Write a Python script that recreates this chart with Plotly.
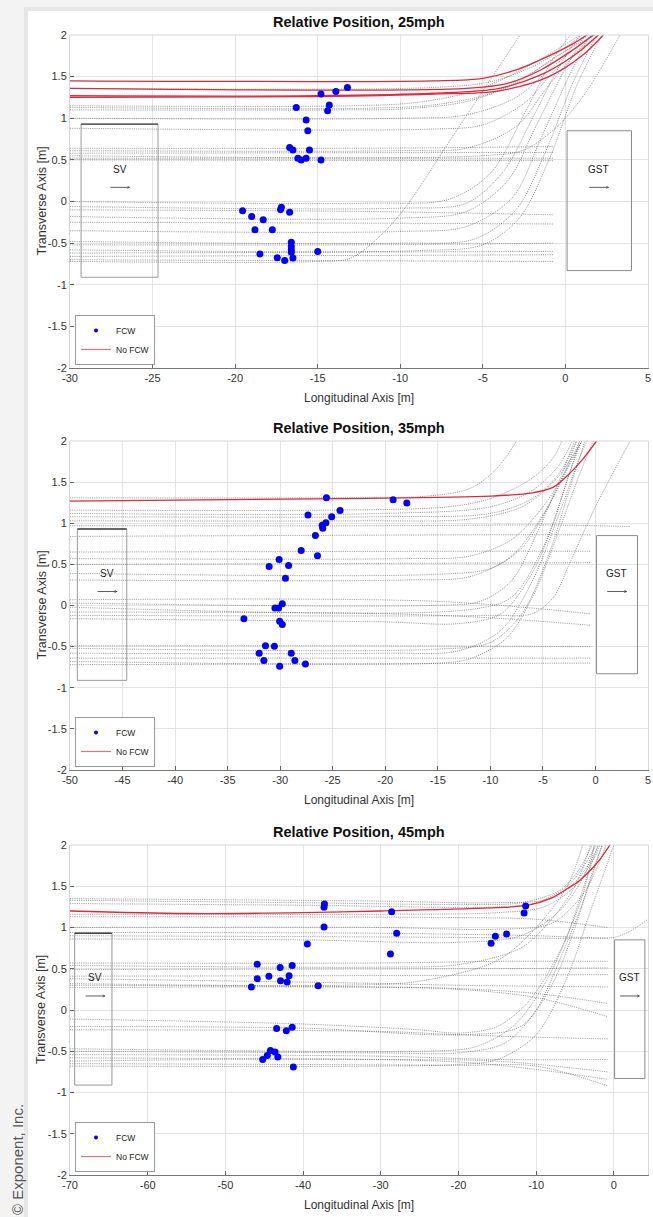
import plotly.graph_objects as go

# ---------------- DATA ----------------
y_tick_vals = [-2, -1.5, -1, -0.5, 0, 0.5, 1, 1.5, 2]
y_tick_text = ["-2", "-1.5", "-1", "-0.5", "0", "0.5", "1", "1.5", "2"]

p1_x_ticks = [-30, -25, -20, -15, -10, -5, 0, 5]
p2_x_ticks = [-50, -45, -40, -35, -30, -25, -20, -15, -10, -5, 0, 5]
p3_x_ticks = [-70, -60, -50, -40, -30, -20, -10, 0]

p1_title = "Relative Position, 25mph"
p2_title = "Relative Position, 35mph"
p3_title = "Relative Position, 45mph"

# FCW alert positions (blue dots)
p1_fcw_x = [-13.2, -13.9, -14.8, -14.3, -14.4, -16.3, -15.7, -15.6, -16.7, -16.5, -15.5, -16.2, -16.0, -15.7, -14.8,
            -19.55, -17.2, -17.25, -16.7, -19.0, -18.3, -18.8, -17.75, -16.6, -16.6, -16.6, -16.6, -15.0, -18.5, -17.45, -17.0, -16.5]
p1_fcw_y = [1.37, 1.32, 1.29, 1.16, 1.09, 1.13, 0.98, 0.85, 0.65, 0.62, 0.62, 0.52, 0.50, 0.52, 0.50,
            -0.11, -0.07, -0.095, -0.13, -0.18, -0.22, -0.34, -0.34, -0.49, -0.54, -0.58, -0.61, -0.60, -0.63, -0.675, -0.71, -0.68]

p2_fcw_x = [-25.6, -19.25, -17.95, -24.3, -27.35, -25.1, -25.65, -26.0, -25.95, -26.65, -28.0, -26.45, -30.1, -31.05, -29.2, -29.5,
            -29.8, -30.5, -30.15, -33.45, -30.05, -29.8, -31.4, -30.55, -32.0, -28.95, -31.55, -28.6, -27.6, -30.05]
p2_fcw_y = [1.31, 1.285, 1.245, 1.155, 1.10, 1.08, 1.005, 0.975, 0.94, 0.85, 0.67, 0.605, 0.56, 0.475, 0.485, 0.33,
            0.02, -0.03, -0.03, -0.16, -0.19, -0.23, -0.49, -0.495, -0.58, -0.58, -0.67, -0.67, -0.71, -0.74]

p3_fcw_x = [-37.25, -37.3, -28.6, -11.35, -11.55, -37.3, -27.95, -13.8, -15.25, -15.8, -39.45, -28.75, -45.9, -41.4, -42.95,
            -41.8, -44.4, -45.9, -42.9, -42.05, -38.05, -46.65,
            -43.4, -42.15, -41.4, -44.2, -43.6, -44.6, -43.25, -45.2, -41.25]
p3_fcw_y = [1.285, 1.245, 1.19, 1.26, 1.175, 1.005, 0.93, 0.92, 0.895, 0.81, 0.80, 0.68, 0.555, 0.54, 0.515,
            0.415, 0.41, 0.38, 0.355, 0.34, 0.295, 0.28,
            -0.225, -0.25, -0.21, -0.49, -0.51, -0.55, -0.57, -0.60, -0.69]

# No-FCW trajectories (red), each a list of (x, y) points
p1_nofcw = [
    [(-30, 1.45), (-8, 1.45), (-5, 1.48), (-3, 1.58), (-1, 1.75), (0.5, 1.9), (1.3, 2.0)],
    [(-30, 1.36), (-6, 1.36), (-3.5, 1.42), (-1.5, 1.58), (0.3, 1.8), (1.7, 2.0)],
    [(-30, 1.27), (-15, 1.27), (-8, 1.30), (-4, 1.36), (-1.5, 1.52), (0.5, 1.75), (2.0, 2.0)],
    [(-30, 1.25), (-15, 1.26), (-8, 1.29), (-4, 1.33), (-1, 1.5), (1, 1.75), (2.3, 2.0)],
]
p2_nofcw = [
    [(-50, 1.27), (-24, 1.30), (-10, 1.33), (-6, 1.37), (-4, 1.44), (-2.5, 1.6), (-1.2, 1.78), (0.1, 2.0)],
]
p3_nofcw = [
    [(-70, 1.20), (-55, 1.17), (-40, 1.18), (-30, 1.20), (-15, 1.24), (-11, 1.27), (-8, 1.36), (-6, 1.47),
     (-4.4, 1.57), (-2, 1.8), (-0.5, 2.0)],
]

# Other simulated trajectories (grey dotted)
p1_traj = [
    [(-30, 1.36), (-8, 1.37), (-4.5, 1.44), (-2, 1.62), (0, 1.85), (1.0, 2.0)],
    [(-30, 1.15), (-13, 1.15), (-9, 1.19), (-5.5, 1.33), (-2.5, 1.6), (0.9, 2.0)],
    [(-30, 1.13), (-12, 1.12), (-8, 1.16), (-4.5, 1.3), (-2, 1.55), (1.4, 2.0)],
    [(-30, 1.10), (-14, 1.10), (-10, 1.11), (-6, 1.2), (-3, 1.42), (-0.5, 1.75), (1.8, 2.0)],
    [(-30, 1.00), (-10, 1.00), (-6, 1.04), (-3, 1.25), (-1, 1.58), (1.6, 2.0)],
    [(-30, 0.88), (-8, 0.87), (-5, 0.92), (-2.5, 1.18), (-0.5, 1.6), (2.0, 2.0)],
    [(-30, 0.64), (-12, 0.64), (-0.7, 0.66)],
    [(-30, 0.61), (-10, 0.61), (-6, 0.64), (-3, 0.9), (-1, 1.4), (1.6, 2.0)],
    [(-30, 0.58), (-0.7, 0.59)],
    [(-30, 0.55), (-5, 0.55), (-2.5, 0.62), (-0.5, 0.9), (1.2, 1.3), (3.3, 2.0)],
    [(-30, 0.52), (-0.7, 0.52)],
    [(-30, 0.50), (-0.7, 0.49)],
    [(-30, 0.00), (-12, -0.02), (-7, 0.03), (-4.5, 0.35), (-2.5, 1.05), (-0.8, 1.7), (0.3, 2.0)],
    [(-30, -0.06), (-10, -0.08), (-6, -0.02), (-3.8, 0.35), (-2, 1.0), (-0.3, 1.65), (0.9, 2.0)],
    [(-30, -0.10), (-12, -0.12), (-0.7, -0.16)],
    [(-30, -0.18), (-10, -0.2), (-6, -0.12), (-3.5, 0.25), (-1.8, 0.9), (0, 1.6), (1.2, 2.0)],
    [(-30, -0.25), (-12, -0.26), (-0.7, -0.27)],
    [(-30, -0.35), (-10, -0.36), (-6, -0.3), (-3.2, 0.05), (-1.5, 0.75), (0.2, 1.5), (1.5, 2.0)],
    [(-30, -0.48), (-10, -0.5), (-5.5, -0.45), (-3, -0.1), (-1.2, 0.6), (0.5, 1.45), (1.9, 2.0)],
    [(-30, -0.52), (-12, -0.52), (-0.7, -0.5)],
    [(-30, -0.58), (-9, -0.59), (-5, -0.52), (-2.8, -0.2), (-1, 0.5), (0.7, 1.4), (2.2, 2.0)],
    [(-30, -0.62), (-0.7, -0.60)],
    [(-30, -0.66), (-0.7, -0.64)],
    [(-30, -0.70), (-0.7, -0.72)],
    [(-30, -0.72), (-15, -0.72), (-13, -0.68), (-11.2, -0.41), (-9.8, -0.1), (-6.6, 0.85), (-2.75, 2.0)],
]
p2_traj = [
    [(-50, 1.31), (-25, 1.31), (-16, 1.33), (-12, 1.42), (-9.5, 1.65), (-7.5, 2.0)],
    [(-50, 1.16), (-25, 1.16), (-14, 1.2), (-10, 1.3), (-6, 1.55), (-4, 1.8), (-3.2, 2.0)],
    [(-50, 1.12), (-20, 1.12), (-10, 1.2), (-6, 1.4), (-3.5, 1.7), (-2.2, 2.0)],
    [(-50, 1.08), (-20, 1.08), (-10, 1.12), (-6, 1.3), (-3.5, 1.6), (-1.8, 2.0)],
    [(-50, 1.03), (-22, 1.03), (-12, 1.05), (-7, 1.2), (-4, 1.5), (-2, 1.85), (-1.3, 2.0)],
    [(-50, 0.97), (-20, 0.97), (-5, 0.98), (0, 0.97), (3.3, 0.96)],
    [(-50, 0.84), (-10, 0.86), (-0.5, 0.86)],
    [(-50, 0.65), (-10, 0.66), (-0.5, 0.66)],
    [(-50, 0.57), (-18, 0.57), (-12, 0.6), (-8, 0.8), (-5, 1.2), (-3, 1.6), (-1.5, 2.0)],
    [(-50, 0.50), (-0.5, 0.52)],
    [(-50, 0.39), (-15, 0.38), (-10, 0.45), (-7, 0.7), (-4.5, 1.2), (-2.5, 1.7), (-1.3, 2.0)],
    [(-50, 0.31), (-18, 0.31), (-12, 0.35), (-8, 0.6), (-5, 1.1), (-3, 1.6), (-1.8, 2.0)],
    [(-50, 0.07), (-15, 0.05), (-0.5, -0.1)],
    [(-50, 0.03), (-16, 0.0), (-11, 0.05), (-8, 0.3), (-5.5, 0.9), (-3.5, 1.5), (-2, 2.0)],
    [(-50, -0.02), (-12, -0.05), (-8, 0.1), (-5, 0.7), (-3, 1.4), (-1.5, 2.0)],
    [(-50, -0.08), (-20, -0.1), (-10, -0.15), (-0.5, -0.24)],
    [(-50, -0.12), (-10, -0.12), (-6, -0.1), (-4, 0.1), (-2.5, 0.5), (0, 1.2), (3.3, 2.0)],
    [(-50, -0.16), (-20, -0.2), (-13, -0.22), (-9, -0.1), (-6, 0.4), (-4, 1.0), (-2.5, 1.6), (-1.3, 2.0)],
    [(-50, -0.49), (-20, -0.49), (-0.5, -0.50)],
    [(-50, -0.52), (-15, -0.53), (-10, -0.45), (-7, -0.1), (-4.5, 0.6), (-2.5, 1.4), (-1, 2.0)],
    [(-50, -0.58), (-20, -0.58), (-13, -0.55), (-9, -0.3), (-6, 0.3), (-3.5, 1.1), (-1.5, 1.8), (-0.8, 2.0)],
    [(-50, -0.64), (-0.5, -0.64)],
    [(-50, -0.68), (-15, -0.7), (-12, -0.65), (-8.5, -0.4), (-6, 0.1), (-3.5, 0.9), (-1.5, 1.6), (-0.2, 2.0)],
    [(-50, -0.72), (-0.5, -0.70)],
]
p3_traj = [
    [(-70, 1.35), (-30, 1.32), (-15, 1.3), (-8, 1.35), (-5, 1.55), (-3, 1.8), (-2, 2.0)],
    [(-70, 1.33), (-40, 1.3), (-20, 1.28), (-12, 1.3), (-7, 1.45), (-4.5, 1.7), (-2.8, 2.0)],
    [(-70, 1.29), (-40, 1.27), (-15, 1.25), (-10, 1.3), (-6, 1.5), (-3.5, 1.8), (-2.3, 2.0)],
    [(-70, 1.16), (-30, 1.16), (-15, 1.18), (-9, 1.25), (-5, 1.5), (-2.5, 1.85), (-1.8, 2.0)],
    [(-70, 1.13), (-20, 1.12), (-10, 1.1), (-0.8, 1.0)],
    [(-70, 1.00), (-30, 1.0), (-15, 0.98), (-8, 1.05), (-4, 1.4), (-1.8, 1.8), (-1, 2.0)],
    [(-70, 0.94), (-30, 0.93), (-10, 0.9), (-4, 0.88), (0, 0.88), (2, 0.95), (4.4, 1.1)],
    [(-70, 0.90), (-20, 0.88), (-10, 0.87), (-0.8, 0.87)],
    [(-70, 0.86), (-40, 0.85), (-20, 0.82), (-12, 0.9), (-7, 1.2), (-4, 1.6), (-2.5, 2.0)],
    [(-70, 0.57), (-30, 0.57), (-15, 0.59), (-0.8, 0.59)],
    [(-70, 0.54), (-30, 0.52), (-20, 0.55), (-12, 0.75), (-8, 1.1), (-5, 1.5), (-3, 2.0)],
    [(-70, 0.49), (-20, 0.5), (-0.8, 0.51)],
    [(-70, 0.41), (-20, 0.42), (-0.8, 0.43)],
    [(-70, 0.38), (-35, 0.33), (-20, 0.3), (-0.8, 0.28)],
    [(-70, 0.32), (-35, 0.3), (-25, 0.35), (-15, 0.6), (-10, 1.0), (-6, 1.5), (-4, 2.0)],
    [(-70, 0.30), (-30, 0.28), (-20, 0.26), (-10, 0.2), (-0.8, 0.08)],
    [(-70, 0.27), (-40, 0.28), (-20, 0.25), (-10, 0.15), (-0.8, -0.08)],
    [(-70, -0.11), (-40, -0.17), (-25, -0.24), (-20, -0.28), (-15, -0.2), (-11, 0.1), (-7, 0.7), (-4, 1.4), (-2.5, 2.0)],
    [(-70, -0.20), (-40, -0.22), (-20, -0.3), (-12, -0.2), (-8, 0.3), (-5, 1.0), (-3, 1.6), (-1.5, 2.0)],
    [(-70, -0.24), (-30, -0.26), (-20, -0.3), (-10, -0.33), (-0.8, -0.35)],
    [(-70, -0.47), (-40, -0.5), (-25, -0.5), (-18, -0.45), (-13, -0.2), (-9, 0.3), (-6, 0.9), (-3.5, 1.6), (-2, 2.0)],
    [(-70, -0.50), (-30, -0.52), (-20, -0.52), (-14, -0.4), (-10, 0.0), (-7, 0.6), (-4, 1.3), (-1.5, 2.0)],
    [(-70, -0.54), (-30, -0.56), (-15, -0.6), (-0.8, -0.6)],
    [(-70, -0.58), (-30, -0.6), (-15, -0.62), (-0.8, -0.75)],
    [(-70, -0.62), (-20, -0.63), (-0.8, -0.84)],
    [(-70, -0.65), (-20, -0.67), (-10, -0.68), (-0.8, -0.92)],
    [(-70, -0.68), (-30, -0.68), (-20, -0.66), (-15, -0.6), (-10, -0.3), (-6, 0.4), (-3, 1.2), (0, 2.0)],
]

# ---------------- LAYOUT GEOMETRY ----------------
W, H = 653, 1217
ML, MR, MT, MB = 70, 5, 35, 42
PH = H - MT - MB
PW = W - ML - MR
def py2paper(py):
    return (H - MB - py) / PH
def px2paper(px):
    return (px - ML) / PW

domains = [
    [py2paper(368), py2paper(35)],
    [py2paper(770), py2paper(441)],
    [py2paper(1175), py2paper(845)],
]
xranges = [[-30, 5], [-50, 5], [-70, 4.4]]
xticks = [p1_x_ticks, p2_x_ticks, p3_x_ticks]
titles = [p1_title, p2_title, p3_title]
fcw = [(p1_fcw_x, p1_fcw_y), (p2_fcw_x, p2_fcw_y), (p3_fcw_x, p3_fcw_y)]
reds = [p1_nofcw, p2_nofcw, p3_nofcw]
greys = [p1_traj, p2_traj, p3_traj]
sv_boxes = [(-29.33, -24.67), (-49.3, -44.6), (-69.4, -64.6)]
sv_text_x = [-27.0, -46.5, -66.8]

FONT = "Liberation Sans, Arial, Helvetica, sans-serif"
GREY = "rgba(60,60,60,0.62)"
RED = "#dc2a3c"

fig = go.Figure()

for i in range(3):
    sfx = "" if i == 0 else str(i + 1)
    xa, ya = "x" + sfx, "y" + sfx
    lg = "legend" + sfx
    for tr in greys[i]:
        fig.add_trace(go.Scatter(
            x=[p[0] for p in tr], y=[p[1] for p in tr], xaxis=xa, yaxis=ya, mode="lines",
            line=dict(color=GREY, width=0.9, dash="1px,1.2px", shape="spline", smoothing=0.9),
            hoverinfo="skip", showlegend=False))
    for tr in reds[i]:
        fig.add_trace(go.Scatter(
            x=[p[0] for p in tr], y=[p[1] for p in tr], xaxis=xa, yaxis=ya, mode="lines",
            line=dict(color=RED, width=1.3, shape="spline", smoothing=0.9),
            hoverinfo="skip", showlegend=False))
    fig.add_trace(go.Scatter(
        x=fcw[i][0], y=fcw[i][1], xaxis=xa, yaxis=ya, mode="markers",
        marker=dict(color="#0000ff", size=7, line=dict(width=0)),
        showlegend=False, hoverinfo="skip"))
    # legend entries
    fig.add_trace(go.Scatter(x=[None], y=[None], xaxis=xa, yaxis=ya, mode="markers", name="FCW",
                             marker=dict(color="#0000ff", size=4), legend=lg))
    fig.add_trace(go.Scatter(x=[None], y=[None], xaxis=xa, yaxis=ya, mode="lines", name="No FCW",
                             line=dict(color="#e8707c", width=1.2), legend=lg))

    axis_common = dict(showgrid=True, gridcolor="#e4e4e4", gridwidth=1, zeroline=False,
                       ticks="inside", ticklen=4, tickcolor="#666", tickwidth=1,
                       tickfont=dict(family=FONT, size=11, color="#333"))
    fig.layout["xaxis" + sfx] = dict(
        domain=[0, 1], range=xranges[i], anchor=ya, tickmode="array",
        tickvals=xticks[i], ticktext=[str(v) for v in xticks[i]],
        showline=True, linecolor="#777", linewidth=1, mirror=False, **axis_common)
    fig.layout["yaxis" + sfx] = dict(
        domain=domains[i], range=[-2, 2], anchor=xa, tickmode="array",
        tickvals=y_tick_vals, ticktext=y_tick_text,
        showline=True, linecolor="#d6d6d6", linewidth=1, mirror=True, **axis_common)

    fig.layout[lg] = dict(
        x=px2paper(75), y=domains[i][0] + 3 / PH, xanchor="left", yanchor="bottom",
        bgcolor="white", bordercolor="#9a9a9a", borderwidth=1,
        font=dict(family=FONT, size=8.5, color="#222"), itemwidth=30,
        tracegroupgap=0)

    # top frame line
    fig.add_shape(type="line", xref=xa + " domain", yref=ya + " domain", x0=0, x1=1, y0=1, y1=1,
                  line=dict(color="#d6d6d6", width=1))

    # SV vehicle outline
    x0, x1 = sv_boxes[i]
    fig.add_shape(type="rect", xref=xa, yref=ya, x0=x0, x1=x1, y0=-0.91, y1=0.93,
                  line=dict(color="#9a9a9a", width=1))
    fig.add_shape(type="line", xref=xa, yref=ya, x0=x0, x1=x1, y0=0.93, y1=0.93,
                  line=dict(color="#444", width=1.4))
    fig.add_annotation(xref=xa, yref=ya, x=sv_text_x[i], y=0.3, text="SV", showarrow=False,
                       font=dict(family=FONT, size=10, color="#222"), xanchor="center", yanchor="bottom")
    span = (xranges[i][1] - xranges[i][0]) / 35.0
    fig.add_annotation(xref=xa, yref=ya, axref=xa, ayref=ya, x=sv_text_x[i] + 0.65 * span, y=0.17,
                       ax=sv_text_x[i] - 0.65 * span, ay=0.17, text="", showarrow=True,
                       arrowhead=5, arrowsize=0.6, arrowwidth=0.8, arrowcolor="#333")
    # GST vehicle outline
    fig.add_shape(type="rect", xref=xa, yref=ya, x0=0.1, x1=4.0, y0=-0.83, y1=0.85,
                  line=dict(color="#8a8a8a", width=1))
    fig.add_annotation(xref=xa, yref=ya, x=2.0, y=0.3, text="GST", showarrow=False,
                       font=dict(family=FONT, size=10, color="#222"), xanchor="center", yanchor="bottom")
    fig.add_annotation(xref=xa, yref=ya, axref=xa, ayref=ya, x=2.0 + 0.65 * span, y=0.17,
                       ax=2.0 - 0.65 * span, ay=0.17, text="", showarrow=True,
                       arrowhead=5, arrowsize=0.6, arrowwidth=0.8, arrowcolor="#333")

    # panel title
    fig.add_annotation(xref="paper", yref="paper", x=0.5, y=domains[i][1], xanchor="center", yanchor="bottom",
                       yshift=3, text="<b>" + titles[i] + "</b>", showarrow=False,
                       font=dict(family=FONT, size=14.5, color="#111"))
    # x axis title
    fig.add_annotation(xref="paper", yref="paper", x=0.5, y=domains[i][0], xanchor="center", yanchor="top",
                       yshift=-21, text="Longitudinal Axis [m]", showarrow=False,
                       font=dict(family=FONT, size=12, color="#333"))
    # y axis title
    fig.add_annotation(xref="paper", yref="paper", x=px2paper(41), y=(domains[i][0] + domains[i][1]) / 2,
                       xanchor="center", yanchor="middle",
                       text="Transverse Axis [m]", textangle=-90, showarrow=False,
                       font=dict(family=FONT, size=12.5, color="#333"))

# page background / card
fig.add_shape(type="rect", xref="paper", yref="paper", layer="below",
              x0=px2paper(24), x1=px2paper(W + 5), y0=py2paper(H + 5), y1=py2paper(7),
              fillcolor="#e6e6e6", line=dict(width=0))
fig.add_shape(type="rect", xref="paper", yref="paper", layer="below",
              x0=px2paper(28), x1=px2paper(W + 5), y0=py2paper(H + 5), y1=py2paper(11),
              fillcolor="white", line=dict(width=0))

# copyright
fig.add_annotation(xref="paper", yref="paper", x=px2paper(17), y=py2paper(1160),
                   xanchor="center", yanchor="middle",
                   text="© Exponent, Inc.", textangle=-90, showarrow=False,
                   font=dict(family=FONT, size=15, color="#555"))

fig.update_layout(
    width=W, height=H, margin=dict(l=ML, r=MR, t=MT, b=MB, autoexpand=False),
    paper_bgcolor="#f3f3f3", plot_bgcolor="rgba(0,0,0,0)",
    font=dict(family=FONT),
)

fig.write_html("out.html", config={"displayModeBar": False},
               post_script="document.body.style.margin='0px';document.body.style.padding='0px';document.body.style.overflow='hidden';")
